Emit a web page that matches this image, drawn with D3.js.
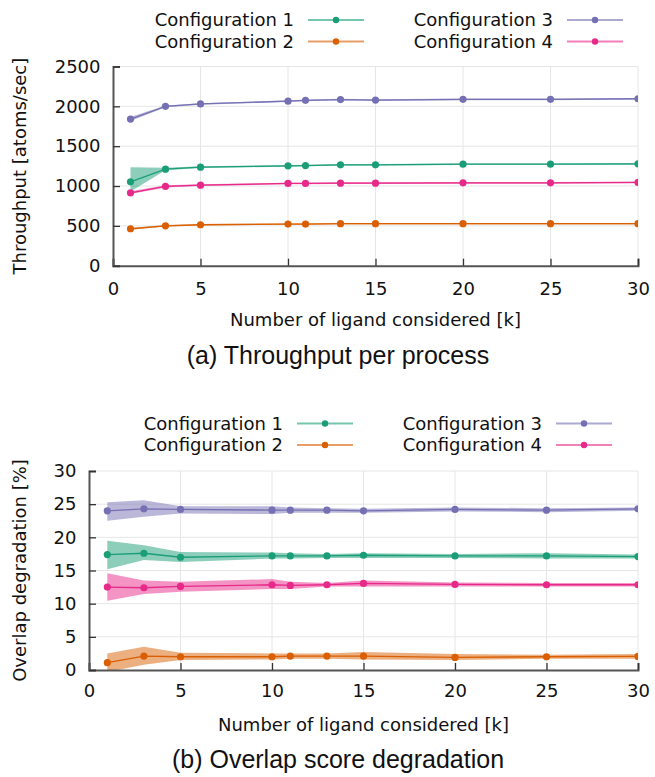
<!DOCTYPE html>
<html><head><meta charset="utf-8">
<script src="https://cdn.jsdelivr.net/npm/d3@7"></script>
<style>body{margin:0;background:#fff}svg{display:block}</style>
</head><body>
<svg id="chart" width="655" height="777"></svg>
<script>
// ---- data ----
const ks = [1, 3, 5, 10, 11, 13, 15, 20, 25, 30];
const configNames = ["Configuration 1", "Configuration 2", "Configuration 3", "Configuration 4"];
const colors = ["#1b9e77", "#d95f02", "#7570b3", "#e7298a"];

// Throughput [atoms/sec]
const thrC1 = [1053, 1212, 1237, 1253, 1257, 1266, 1266, 1274, 1274, 1278];
const thrC1Lo = [930, 1198, 1227, 1243, 1247, 1256, 1256, 1264, 1264, 1268];
const thrC1Hi = [1235, 1228, 1247, 1263, 1267, 1276, 1276, 1284, 1284, 1288];
const thrC2 = [464, 501, 514, 523, 523, 527, 527, 527, 527, 527];
const thrC2Lo = [452, 491, 504, 513, 513, 517, 517, 517, 517, 517];
const thrC2Hi = [474, 511, 524, 533, 533, 537, 537, 537, 537, 537];
const thrC3 = [1840, 2000, 2030, 2065, 2075, 2085, 2078, 2088, 2088, 2095];
const thrC3Lo = [1815, 1990, 2020, 2055, 2065, 2075, 2068, 2078, 2078, 2085];
const thrC3Hi = [1865, 2012, 2040, 2075, 2085, 2095, 2088, 2098, 2098, 2105];
const thrC4 = [915, 995, 1011, 1032, 1032, 1036, 1036, 1040, 1040, 1045];
const thrC4Lo = [900, 982, 1001, 1022, 1022, 1026, 1026, 1030, 1030, 1035];
const thrC4Hi = [935, 1010, 1021, 1042, 1042, 1046, 1046, 1050, 1050, 1055];

// Overlap degradation [%]
const ovC1 = [17.4, 17.6, 17.0, 17.2, 17.2, 17.2, 17.3, 17.2, 17.2, 17.1];
const ovC1Lo = [15.2, 16.6, 16.3, 16.8, 16.8, 16.9, 16.9, 16.9, 16.8, 16.8];
const ovC1Hi = [19.5, 18.8, 17.8, 17.7, 17.6, 17.5, 17.6, 17.5, 17.6, 17.4];
const ovC2 = [1.1, 2.1, 2.0, 2.0, 2.1, 2.1, 2.1, 1.9, 2.0, 2.05];
const ovC2Lo = [-0.3, 0.8, 1.5, 1.6, 1.7, 1.7, 1.6, 1.5, 1.7, 1.7];
const ovC2Hi = [2.5, 3.5, 2.6, 2.5, 2.5, 2.5, 2.7, 2.4, 2.3, 2.4];
const ovC3 = [24.0, 24.3, 24.2, 24.1, 24.1, 24.1, 24.0, 24.2, 24.1, 24.3];
const ovC3Lo = [22.5, 23.1, 23.6, 23.5, 23.7, 23.7, 23.7, 23.9, 23.8, 24.0];
const ovC3Hi = [25.3, 25.6, 24.7, 24.7, 24.5, 24.4, 24.3, 24.5, 24.4, 24.5];
const ovC4 = [12.5, 12.4, 12.6, 12.85, 12.75, 12.85, 13.05, 12.9, 12.85, 12.85];
const ovC4Lo = [10.45, 11.45, 11.8, 12.2, 12.2, 12.6, 12.6, 12.6, 12.6, 12.6];
const ovC4Hi = [14.6, 13.5, 13.3, 13.7, 13.3, 13.1, 13.5, 13.2, 13.1, 13.1];

const xTicks = [0, 5, 10, 15, 20, 25, 30];
const thrTicks = [0, 500, 1000, 1500, 2000, 2500];
const ovTicks = [0, 5, 10, 15, 20, 25, 30];

const xLabel = "Number of ligand considered [k]";

// ---- drawing ----
const svg = d3.select("#chart");
const FONT = "DejaVu Sans";
const FS = 18;

function panel(opts) {
  const {id, left, right, top, bottom, yMax, yTicks, yLabel, means, los, his,
         legendY, legendTextRight, caption, captionY, xPad} = opts;
  const x = d3.scaleLinear().domain([0, 30]).range([left, right]);
  const y = d3.scaleLinear().domain([0, yMax]).range([bottom, top]);
  const g = svg.append("g");

  g.append("defs").append("clipPath").attr("id", id)
    .append("rect").attr("x", left).attr("y", top)
    .attr("width", right - left).attr("height", bottom - top);

  // gridlines
  g.append("g").selectAll("line").data(xTicks.filter(d => d > 0)).join("line")
    .attr("x1", d => x(d)).attr("x2", d => x(d)).attr("y1", top).attr("y2", bottom)
    .attr("stroke", "#e6e6e6").attr("stroke-width", 1);
  g.append("g").selectAll("line").data(yTicks.filter(d => d > 0)).join("line")
    .attr("x1", left).attr("x2", right).attr("y1", d => y(d)).attr("y2", d => y(d))
    .attr("stroke", "#e6e6e6").attr("stroke-width", 1);

  // series
  const plot = g.append("g").attr("clip-path", `url(#${id})`);
  for (let s = 0; s < 4; s++) {
    const rows = ks.map((k, i) => ({k, m: means[s][i], lo: los[s][i], hi: his[s][i]}));
    plot.append("path").datum(rows)
      .attr("d", d3.area().x(d => x(d.k)).y0(d => y(d.lo)).y1(d => y(d.hi)))
      .attr("fill", colors[s]).attr("fill-opacity", 0.5).attr("stroke", "none");
  }
  for (let s = 0; s < 4; s++) {
    const rows = ks.map((k, i) => ({k, m: means[s][i]}));
    plot.append("path").datum(rows)
      .attr("d", d3.line().x(d => x(d.k)).y(d => y(d.m)))
      .attr("fill", "none").attr("stroke", colors[s]).attr("stroke-width", 1.3);
    plot.append("g").selectAll("circle").data(rows).join("circle")
      .attr("cx", d => x(d.k)).attr("cy", d => y(d.m)).attr("r", 3.6)
      .attr("fill", colors[s]);
  }

  // axes
  const xAxis = d3.axisBottom(x).tickValues(xTicks).tickFormat(d3.format("d")).tickSize(-7).tickPadding(xPad);
  const yAxis = d3.axisLeft(y).tickValues(yTicks).tickFormat(d3.format("d")).tickSize(-7).tickPadding(12.5);
  const gx = g.append("g").attr("transform", `translate(0,${bottom})`).call(xAxis);
  const gy = g.append("g").attr("transform", `translate(${left},0)`).call(yAxis);
  [gx, gy].forEach(a => {
    a.select(".domain").attr("stroke", "#555").attr("stroke-width", 2);
    a.selectAll(".tick line").attr("stroke", "#333").attr("stroke-width", 1.3);
    a.selectAll(".tick text").attr("font-family", FONT).attr("font-size", FS).attr("fill", "#111");
  });
  gx.selectAll(".tick text").attr("dy", "0.71em");

  // axis labels
  g.append("text").attr("x", (left + right) / 2).attr("y", bottom + 60.5)
    .attr("text-anchor", "middle").attr("font-family", FONT).attr("font-size", FS)
    .attr("fill", "#111").text(xLabel);
  g.append("text").attr("transform", `translate(25.5,${(top + bottom) / 2}) rotate(-90)`)
    .attr("text-anchor", "middle").attr("font-family", FONT).attr("font-size", FS)
    .attr("fill", "#111").text(yLabel);

  // legend
  const colX = [legendTextRight, legendTextRight + 259];
  for (let s = 0; s < 4; s++) {
    const cx = colX[Math.floor(s / 2)];
    const cy = legendY + (s % 2) * 21.5;
    g.append("text").attr("x", cx).attr("y", cy).attr("dy", "0.35em")
      .attr("text-anchor", "end").attr("font-family", FONT).attr("font-size", FS)
      .attr("fill", "#111").text(configNames[s]);
    g.append("line").attr("x1", cx + 14).attr("x2", cx + 70).attr("y1", cy).attr("y2", cy)
      .attr("stroke", colors[s]).attr("stroke-opacity", 0.6).attr("stroke-width", 2);
    g.append("circle").attr("cx", cx + 42).attr("cy", cy).attr("r", 3.2).attr("fill", colors[s]);
  }

  // caption
  g.append("text").attr("x", 338).attr("y", captionY)
    .attr("text-anchor", "middle").attr("font-family", "Liberation Sans, Arial, sans-serif")
    .attr("font-size", 25).attr("fill", "#111").text(caption);
}

panel({
  id: "clipA", left: 113, right: 638, top: 66.5, bottom: 265.7, yMax: 2500,
  yTicks: thrTicks, yLabel: "Throughput [atoms/sec]",
  means: [thrC1, thrC2, thrC3, thrC4], los: [thrC1Lo, thrC2Lo, thrC3Lo, thrC4Lo],
  his: [thrC1Hi, thrC2Hi, thrC3Hi, thrC4Hi], xPad: 16.5,
  legendY: 20, legendTextRight: 294, caption: "(a) Throughput per process", captionY: 364
});
panel({
  id: "clipB", left: 89, right: 638, top: 471, bottom: 670, yMax: 30,
  yTicks: ovTicks, yLabel: "Overlap degradation [%]",
  means: [ovC1, ovC2, ovC3, ovC4], los: [ovC1Lo, ovC2Lo, ovC3Lo, ovC4Lo],
  his: [ovC1Hi, ovC2Hi, ovC3Hi, ovC4Hi], xPad: 14,
  legendY: 423.5, legendTextRight: 283, caption: "(b) Overlap score degradation", captionY: 768
});
</script>
</body></html>
